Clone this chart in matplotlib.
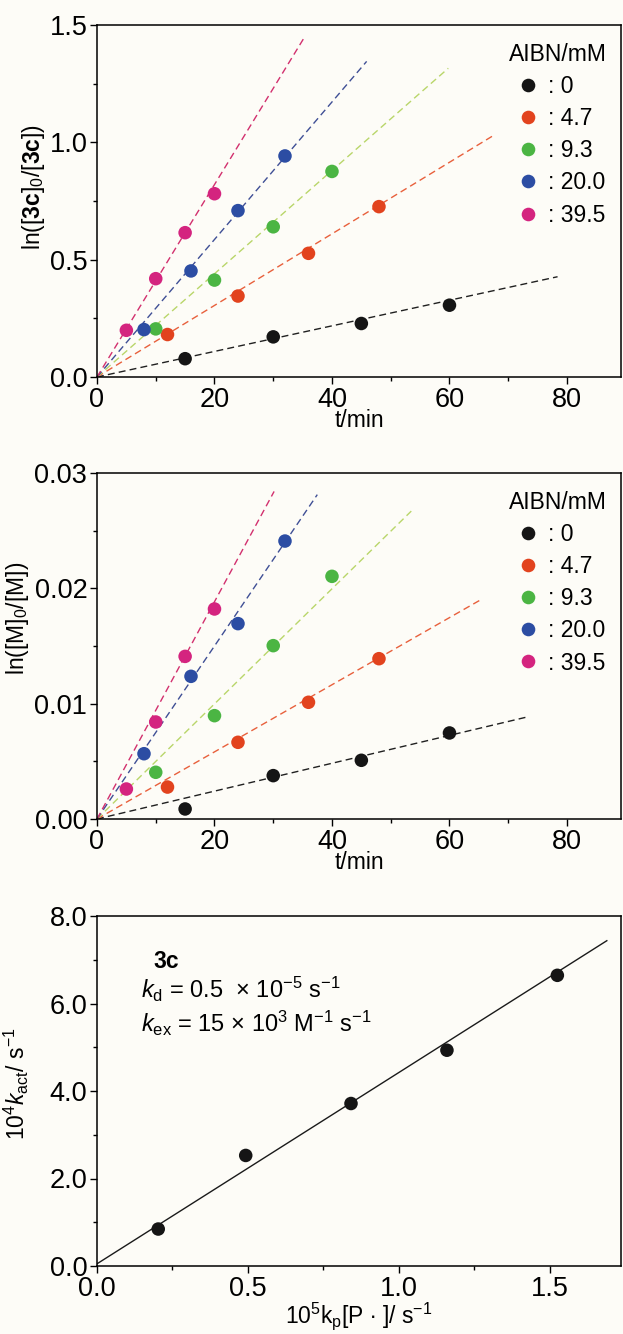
import numpy as np
import matplotlib
matplotlib.use('Agg')
import matplotlib.pyplot as plt
from matplotlib.ticker import MultipleLocator, FormatStrFormatter
from matplotlib.lines import Line2D

plt.rcParams['font.family'] = ['Liberation Sans', 'DejaVu Sans']
plt.rcParams['mathtext.fontset'] = 'custom'
plt.rcParams['mathtext.rm'] = 'Liberation Sans'
plt.rcParams['mathtext.it'] = 'Liberation Sans:italic'
plt.rcParams['mathtext.bf'] = 'Liberation Sans:bold'

# AIBN concentrations (mM) and sampling times (min) for each run
aibn = ['0', '4.7', '9.3', '20.0', '39.5']
times = [
    [15, 30, 45, 60],
    [12, 24, 36, 48],
    [10, 20, 30, 40],
    [8, 16, 24, 32],
    [5, 10, 15, 20],
]

# ln([3c]0/[3c])
ln_3c = [
    [0.078, 0.171, 0.228, 0.306],
    [0.181, 0.345, 0.527, 0.726],
    [0.205, 0.413, 0.640, 0.876],
    [0.202, 0.452, 0.709, 0.942],
    [0.199, 0.419, 0.615, 0.781],
]
slope_3c = [0.00545, 0.01525, 0.0220, 0.0293, 0.0410]
tend_3c = [78.4, 67.7, 59.8, 45.9, 35.4]

# ln([M]0/[M])
ln_m = [
    [0.00087, 0.00376, 0.00509, 0.00746],
    [0.00277, 0.00665, 0.01012, 0.01390],
    [0.00405, 0.00896, 0.01503, 0.02104],
    [0.00566, 0.01237, 0.01694, 0.02410],
    [0.00260, 0.00841, 0.01410, 0.01821],
]
slope_m = [0.0001208, 0.000291, 0.000499, 0.000750, 0.000942]
tend_m = [73.2, 65.4, 53.5, 37.5, 30.15]

# k_act vs kp[P.]
kp_p = [0.203, 0.493, 0.842, 1.160, 1.526]
k_act = [0.845, 2.527, 3.714, 4.932, 6.644]
fit_slope = 4.37
fit_icpt = 0.05
fit_xend = 1.69

pt_colors = ['#151515', '#e2431e', '#4bb543', '#2c4da3', '#d4247f']
ln_colors = ['#202020', '#e8603c', '#b9d66a', '#3f4f95', '#d2306e']

bg = '#fdfcf7'
W, H = 623, 1334
fig = plt.figure(figsize=(W / 100, H / 100), dpi=100, facecolor=bg)


def box(top, bottom, left=97, right=621):
    return [left / W, 1 - bottom / H, (right - left) / W, (bottom - top) / H]


def style(ax):
    ax.set_facecolor(bg)
    for s in ax.spines.values():
        s.set_linewidth(1.1)
    ax.tick_params(which='major', direction='out', length=5, width=1.0,
                   labelsize=19.5, pad=2, top=False, right=False)
    ax.tick_params(which='minor', direction='out', length=3, width=1.0,
                   top=False, right=False)


def kinetics(ax, ys, slopes, tends, ymax, ymajor, yminor, yfmt, ylabel, label_y):
    style(ax)
    for i in range(len(aibn)):
        t = np.array([0, tends[i]])
        ax.plot(t, slopes[i] * t, color=ln_colors[i], lw=1.0,
                linestyle=(0, (5, 3)), zorder=2)
        ax.scatter(times[i], ys[i], s=95, color=pt_colors[i],
                   edgecolors='none', zorder=3)
    ax.set_xlim(0, 89.2)
    ax.set_ylim(0, ymax)
    ax.xaxis.set_major_locator(MultipleLocator(20))
    ax.xaxis.set_minor_locator(MultipleLocator(10))
    ax.yaxis.set_major_locator(MultipleLocator(ymajor))
    ax.yaxis.set_minor_locator(MultipleLocator(yminor))
    ax.yaxis.set_major_formatter(FormatStrFormatter(yfmt))
    ax.set_xlabel('t/min', fontsize=16.5, labelpad=-3)
    ax.set_ylabel(ylabel, fontsize=16.5)
    ax.yaxis.set_label_coords(*label_y)

    handles = [Line2D([], [], marker='o', linestyle='none', markersize=9.8,
                      markerfacecolor=c, markeredgecolor='none')
               for c in pt_colors]
    leg = ax.legend(handles, [': ' + a for a in aibn], title='AIBN/mM',
                    loc='upper left', bbox_to_anchor=(0.765, 0.982),
                    frameon=False, fontsize=16.5, title_fontsize=16.5,
                    labelspacing=0.4, handletextpad=0.1, handlelength=1.6,
                    borderpad=0, alignment='left')
    return leg


ax1 = fig.add_axes(box(25, 377))
kinetics(ax1, ln_3c, slope_3c, tend_3c, 1.5, 0.5, 0.25, '%.1f',
         r'ln([$\mathbf{3c}$]$_0$/[$\mathbf{3c}$])', (-0.095, 0.54))

ax2 = fig.add_axes(box(473, 819))
kinetics(ax2, ln_m, slope_m, tend_m, 0.03, 0.01, 0.005, '%.2f',
         r'ln([M]$_0$/[M])', (-0.125, 0.58))

# activation rate constant vs propagation term
ax3 = fig.add_axes(box(916, 1266))
style(ax3)
xf = np.array([0, fit_xend])
ax3.plot(xf, fit_icpt + fit_slope * xf, color='#1a1a1a', lw=1.0, zorder=2)
ax3.scatter(kp_p, k_act, s=95, color='#151515', edgecolors='none', zorder=3)
ax3.set_xlim(0, 1.737)
ax3.set_ylim(0, 8.0)
ax3.xaxis.set_major_locator(MultipleLocator(0.5))
ax3.xaxis.set_minor_locator(MultipleLocator(0.25))
ax3.yaxis.set_major_locator(MultipleLocator(2.0))
ax3.yaxis.set_minor_locator(MultipleLocator(1.0))
ax3.xaxis.set_major_formatter(FormatStrFormatter('%.1f'))
ax3.yaxis.set_major_formatter(FormatStrFormatter('%.1f'))
ax3.set_xlabel(r'10$^5$k$_\mathrm{p}$[P $\bullet$ ]/ s$^{-1}$', fontsize=16.5,
               labelpad=-1)
ax3.set_ylabel(r'10$^4$$k_\mathrm{act}$/ s$^{-1}$', fontsize=16.5)
ax3.yaxis.set_label_coords(-0.125, 0.52)

ax3.text(0.107, 0.869, '3c', transform=ax3.transAxes, fontsize=16.5,
         fontweight='bold', va='center', ha='left')
ax3.text(0.084, 0.789, r'$k_\mathrm{d}$ = 0.5  $\times$ 10$^{-5}$ s$^{-1}$',
         transform=ax3.transAxes, fontsize=17, va='center', ha='left')
ax3.text(0.084, 0.694, r'$k_\mathrm{ex}$ = 15 $\times$ 10$^3$ M$^{-1}$ s$^{-1}$',
         transform=ax3.transAxes, fontsize=17, va='center', ha='left')

fig.savefig('out.png', dpi=100, facecolor=bg)
